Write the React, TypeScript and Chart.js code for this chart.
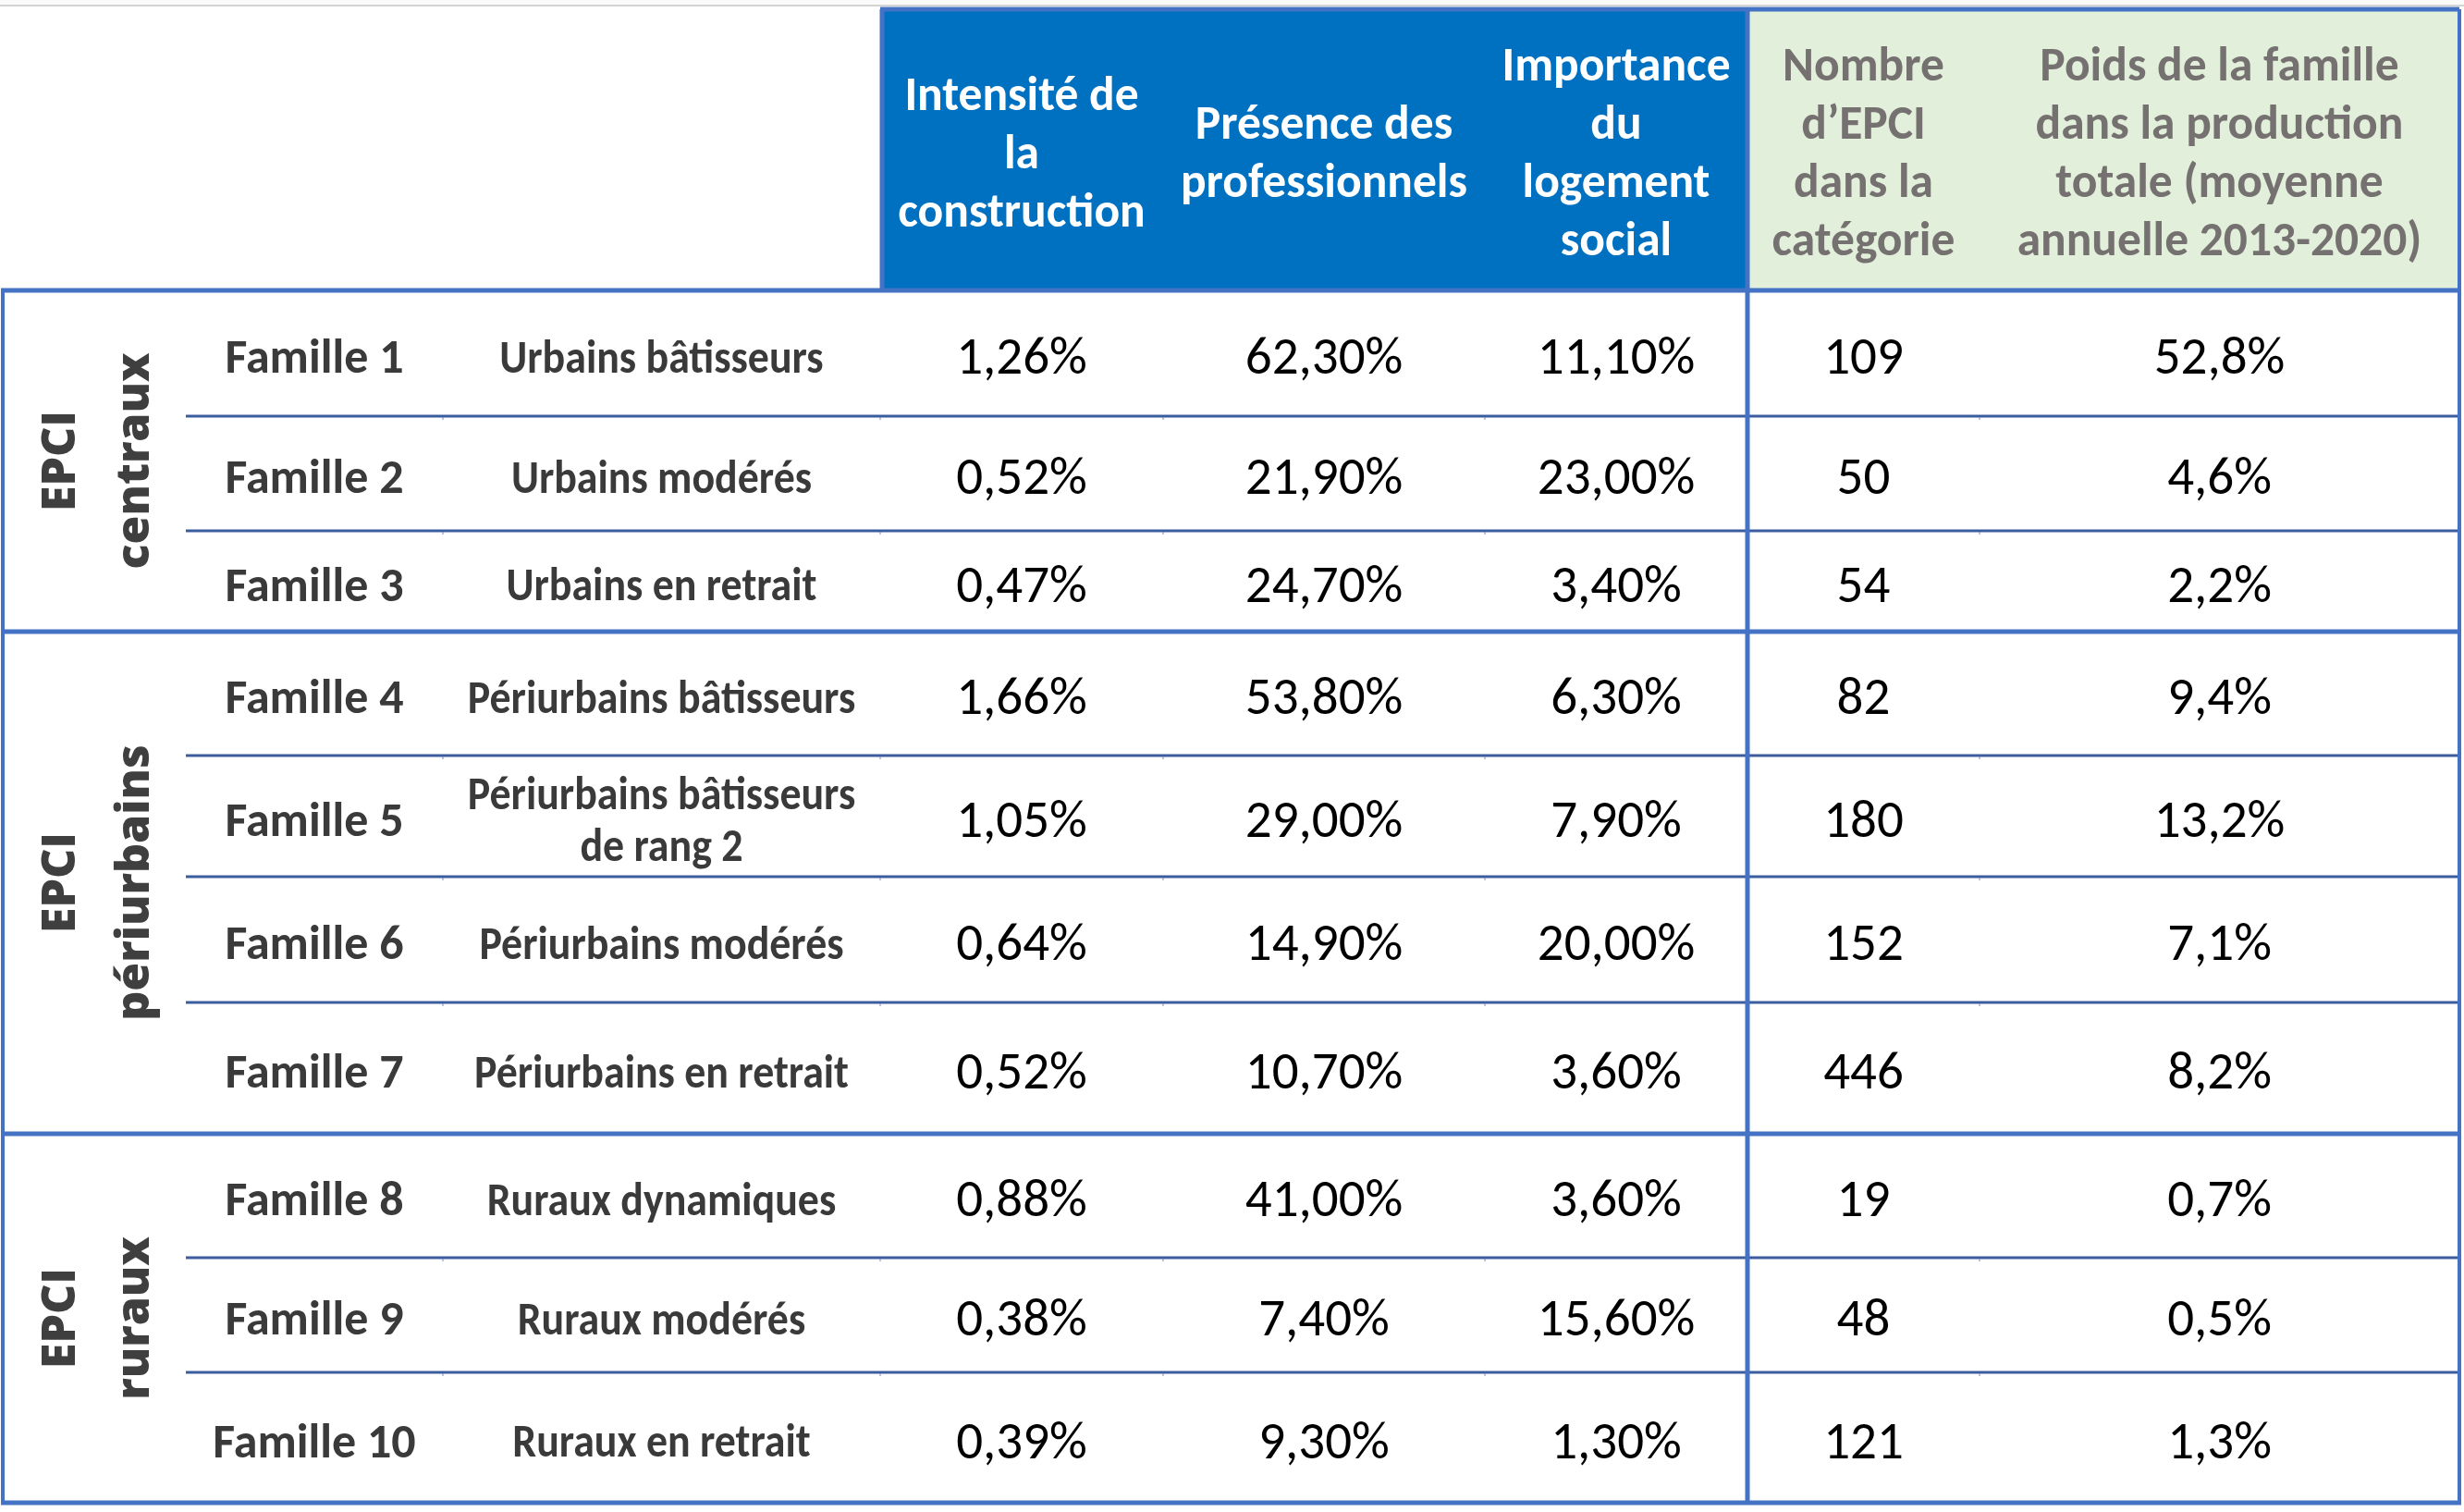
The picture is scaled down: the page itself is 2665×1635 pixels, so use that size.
import React, { useEffect, useRef } from "react";
import { Chart, registerables } from "chart.js";

Chart.register(...registerables);

// ---------------- DATA ----------------
const groupLabels: string[][] = [
  ["EPCI", "centraux"],
  ["EPCI", "périurbains"],
  ["EPCI", "ruraux"],
];
const groupSizes = [3, 4, 3];

const families = [
  "Famille 1", "Famille 2", "Famille 3", "Famille 4", "Famille 5",
  "Famille 6", "Famille 7", "Famille 8", "Famille 9", "Famille 10",
];

const familyNames: string[][] = [
  ["Urbains bâtisseurs"],
  ["Urbains modérés"],
  ["Urbains en retrait"],
  ["Périurbains bâtisseurs"],
  ["Périurbains bâtisseurs", "de rang 2"],
  ["Périurbains modérés"],
  ["Périurbains en retrait"],
  ["Ruraux dynamiques"],
  ["Ruraux modérés"],
  ["Ruraux en retrait"],
];

const intensite = [1.26, 0.52, 0.47, 1.66, 1.05, 0.64, 0.52, 0.88, 0.38, 0.39];
const presence = [62.3, 21.9, 24.7, 53.8, 29.0, 14.9, 10.7, 41.0, 7.4, 9.3];
const logementSocial = [11.1, 23.0, 3.4, 6.3, 7.9, 20.0, 3.6, 3.6, 15.6, 1.3];
const nombreEpci = [109, 50, 54, 82, 180, 152, 446, 19, 48, 121];
const poidsProduction = [52.8, 4.6, 2.2, 9.4, 13.2, 7.1, 8.2, 0.7, 0.5, 1.3];

const headerBlue: string[][] = [
  ["Intensité de", "la", "construction"],
  ["Présence des", "professionnels"],
  ["Importance", "du", "logement", "social"],
];
const headerGreen: string[][] = [
  ["Nombre", "d’EPCI", "dans la", "catégorie"],
  ["Poids de la famille", "dans la production", "totale (moyenne", "annuelle 2013-2020)"],
];

// ---------------- LAYOUT ----------------
const W = 2665;
const H = 1635;
const COL = [3, 201, 479, 952, 1258, 1606, 1890, 2141, 2660];
const ROW = [314, 450, 574, 683, 817, 948, 1084, 1226, 1360, 1484, 1625];
const HEAD_TOP = 10;

const NARROW = "Carlito, 'Liberation Sans Narrow', 'Arial Narrow', 'Open Sans', sans-serif";
const WIDE = "'Open Sans', 'DejaVu Sans', sans-serif";

const pct = (v: number, d: number) => v.toFixed(d).replace(".", ",") + "%";

const colCenter = (c: number) => (COL[c] + COL[c + 1]) / 2;
const rowCenter = (r: number) => (ROW[r] + ROW[r + 1]) / 2 + 8;

type Cell = { lines: string[]; font: string; color: string; lh: number; rotate?: boolean; sx?: number };

export default function App() {
  const ref = useRef<HTMLCanvasElement | null>(null);

  useEffect(() => {
    if (!ref.current) return;

    const nRows = families.length;
    const cellsByDataset: Cell[][] = [];
    const datasets: any[] = [];

    const addDataset = (label: string, pts: { x: number; y: number }[], cells: Cell[]) => {
      datasets.push({ label, data: pts, pointRadius: 0, showLine: false });
      cellsByDataset.push(cells);
    };

    // group labels
    {
      const pts: { x: number; y: number }[] = [];
      const cells: Cell[] = [];
      let start = 0;
      groupSizes.forEach((n, g) => {
        pts.push({ x: colCenter(0) + 5, y: (ROW[start] + ROW[start + n]) / 2 });
        cells.push({ lines: groupLabels[g], font: `800 50px ${WIDE}`, color: "#3F3F3F", lh: 80, rotate: true });
        start += n;
      });
      addDataset("groupes", pts, cells);
    }

    const familyFont = `bold 52px ${NARROW}`;
    const nameFont = `bold 51px ${NARROW}`;
    const bodyValue = `57px ${NARROW}`;

    addDataset(
      "familles",
      families.map((_, r) => ({ x: colCenter(1), y: rowCenter(r) })),
      families.map((f) => ({ lines: [f], font: familyFont, color: "#3A3A3A", lh: 56 }))
    );
    addDataset(
      "noms",
      familyNames.map((_, r) => ({ x: colCenter(2), y: rowCenter(r) })),
      familyNames.map((l) => ({ lines: l, font: nameFont, color: "#3A3A3A", lh: 56, sx: 0.9 }))
    );

    const valueCols: string[][] = [
      intensite.map((v) => pct(v, 2)),
      presence.map((v) => pct(v, 2)),
      logementSocial.map((v) => pct(v, 2)),
      nombreEpci.map((v) => String(v)),
      poidsProduction.map((v) => pct(v, 1)),
    ];
    valueCols.forEach((col, i) => {
      addDataset(
        "col" + i,
        col.map((_, r) => ({ x: colCenter(3 + i), y: rowCenter(r) })),
        col.map((t) => ({ lines: [t], font: bodyValue, color: "#000000", lh: 56 }))
      );
    });

    // headers
    {
      const hy = (HEAD_TOP + ROW[0]) / 2 + 7;
      const pts: { x: number; y: number }[] = [];
      const cells: Cell[] = [];
      headerBlue.forEach((l, i) => {
        pts.push({ x: colCenter(3 + i), y: hy });
        cells.push({ lines: l, font: `bold 51.5px ${NARROW}`, color: "#FFFFFF", lh: 63 });
      });
      headerGreen.forEach((l, i) => {
        pts.push({ x: colCenter(6 + i), y: hy });
        cells.push({ lines: l, font: `bold 51.5px ${NARROW}`, color: "#767171", lh: 63 });
      });
      addDataset("entetes", pts, cells);
    }

    const tablePlugin = {
      id: "tablePlugin",
      beforeDatasetsDraw(chart: any) {
        const ctx = chart.ctx as CanvasRenderingContext2D;
        const xs = chart.scales.x;
        const ys = chart.scales.y;
        const X = (v: number) => xs.getPixelForValue(v);
        const Y = (v: number) => ys.getPixelForValue(v);
        ctx.save();
        ctx.fillStyle = "#FFFFFF";
        ctx.fillRect(0, 0, chart.width, chart.height);
        ctx.fillStyle = "#FAFAFA";
        ctx.fillRect(0, 0, chart.width, Y(5));

        // top gray line
        ctx.fillStyle = "#D4D4D4";
        ctx.fillRect(X(0), Y(5), X(W) - X(0), 2);

        // header fills
        ctx.fillStyle = "#0070C0";
        ctx.fillRect(X(COL[3]), Y(HEAD_TOP), X(COL[6]) - X(COL[3]), Y(ROW[0]) - Y(HEAD_TOP));
        ctx.fillStyle = "#E2EFDA";
        ctx.fillRect(X(COL[6]), Y(HEAD_TOP), X(COL[8]) - X(COL[6]), Y(ROW[0]) - Y(HEAD_TOP));

        const line = (x1: number, y1: number, x2: number, y2: number, w: number, c: string) => {
          ctx.strokeStyle = c;
          ctx.lineWidth = w;
          ctx.beginPath();
          ctx.moveTo(X(x1), Y(y1));
          ctx.lineTo(X(x2), Y(y2));
          ctx.stroke();
        };

        // thin row separators
        const groupEdges = new Set<number>();
        let acc = 0;
        groupEdges.add(0);
        groupSizes.forEach((n) => {
          acc += n;
          groupEdges.add(acc);
        });
        for (let r = 1; r < nRows; r++) {
          if (groupEdges.has(r)) continue;
          line(COL[1], ROW[r], COL[8], ROW[r], 3, "#3B5C9E");
          [COL[2], COL[3], COL[4], COL[5], COL[7]].forEach((cx) => {
            line(cx, ROW[r] + 1, cx, ROW[r] + 4, 1, "#6F8AC0");
          });
        }

        const B = "#4472C4";
        // header borders
        line(COL[3], HEAD_TOP, COL[8], HEAD_TOP, 5, B);
        line(COL[3] + 2, HEAD_TOP, COL[3] + 2, ROW[0], 5, B);
        // group borders
        groupEdges.forEach((r) => line(COL[0] - 2, ROW[r], COL[8] + 2, ROW[r], 5, B));
        line(COL[0], ROW[0], COL[0], ROW[nRows], 4, B);
        line(COL[6], HEAD_TOP, COL[6], ROW[nRows], 5, B);
        line(COL[8], HEAD_TOP, COL[8], ROW[nRows], 4, B);
        ctx.restore();
      },
      afterDatasetsDraw(chart: any) {
        const ctx = chart.ctx as CanvasRenderingContext2D;
        ctx.save();
        ctx.textAlign = "center";
        ctx.textBaseline = "middle";
        cellsByDataset.forEach((cells, di) => {
          const meta = chart.getDatasetMeta(di);
          cells.forEach((cell, i) => {
            const el = meta.data[i];
            if (!el) return;
            const n = cell.lines.length;
            ctx.font = cell.font;
            ctx.fillStyle = cell.color;
            ctx.save();
            ctx.translate(el.x, el.y);
            if (cell.rotate) ctx.rotate(-Math.PI / 2);
            if (cell.sx) ctx.scale(cell.sx, 1);
            cell.lines.forEach((t, k) => {
              ctx.fillText(t, 0, (k - (n - 1) / 2) * cell.lh);
            });
            ctx.restore();
          });
        });
        ctx.restore();
      },
    };

    const chart = new Chart(ref.current, {
      type: "scatter",
      data: { datasets },
      options: {
        responsive: false,
        animation: false,
        events: [],
        layout: { padding: 0 },
        plugins: { legend: { display: false }, tooltip: { enabled: false } },
        scales: {
          x: { type: "linear", min: 0, max: W, display: false },
          y: { type: "linear", min: 0, max: H, reverse: true, display: false },
        },
      },
      plugins: [tablePlugin],
    } as any);

    return () => chart.destroy();
  }, []);

  return (
    <div style={{ position: "absolute", left: 0, top: 0, width: W, height: H, background: "#fff" }}>
      <canvas ref={ref} width={W} height={H} style={{ display: "block" }} />
    </div>
  );
}
